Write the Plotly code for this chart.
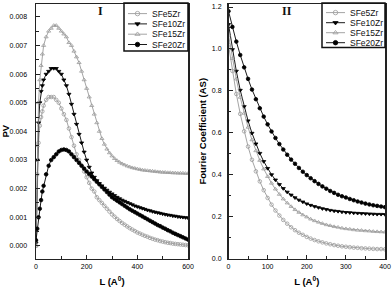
import plotly.graph_objects as go

# ---------------- data ----------------
series_names = ["SFe5Zr", "SFe10Zr", "SFe15Zr", "SFe20Zr"]

# Panel I : PV versus L
L_pv = [0, 5, 10, 15, 20, 25] + list(range(30, 601, 10))

pv_SFe5Zr = [0.0000, 0.0025, 0.0036, 0.0042, 0.0045, 0.0047,
             0.0049, 0.0051, 0.0052, 0.0052, 0.0052, 0.0051, 0.0050, 0.0048, 0.0046, 0.0044,
             0.0041, 0.0038, 0.0035, 0.0032, 0.0030, 0.0028, 0.0026, 0.0024, 0.0022, 0.0020,
             0.0019, 0.0017, 0.0016, 0.0015, 0.0014, 0.0013, 0.0012, 0.0011, 0.00102, 0.00094,
             0.00087, 0.0008, 0.00074, 0.00068, 0.00062, 0.00057, 0.00052, 0.00047, 0.00043, 0.00039,
             0.00035, 0.00032, 0.00028, 0.00025, 0.00022, 0.0002, 0.00017, 0.00015, 0.00013, 0.00011,
             0.0001, 0.00008, 0.00007, 0.00006, 0.00005, 0.00004, 0.00003, 0.00002]

pv_SFe10Zr = [0.0001, 0.0030, 0.0043, 0.0050, 0.0054, 0.0056,
              0.0058, 0.0060, 0.0061, 0.0062, 0.0062, 0.0062, 0.0061, 0.0060, 0.0058, 0.0056,
              0.0053, 0.00495, 0.0046, 0.00425, 0.0039, 0.0036, 0.00328, 0.0030, 0.00275, 0.00255,
              0.0024, 0.00228, 0.00218, 0.0021, 0.00202, 0.00195, 0.00188, 0.00182, 0.00176, 0.0017,
              0.00165, 0.0016, 0.00156, 0.00152, 0.00148, 0.00144, 0.0014, 0.00137, 0.00134, 0.00131,
              0.00128, 0.00125, 0.00123, 0.0012, 0.00118, 0.00116, 0.00114, 0.00112, 0.0011, 0.00108,
              0.00107, 0.00105, 0.00104, 0.00102, 0.00101, 0.0010, 0.00099, 0.00098]

pv_SFe15Zr = [0.0000, 0.0035, 0.0050, 0.0058, 0.0063, 0.0067,
              0.0070, 0.0073, 0.0075, 0.0076, 0.0077, 0.0077, 0.0076, 0.0075, 0.0074, 0.0073,
              0.0071, 0.0070, 0.0068, 0.0066, 0.0064, 0.0061, 0.0058, 0.0055, 0.0052, 0.0049,
              0.0046, 0.0043, 0.0040, 0.00375, 0.00355, 0.00338, 0.00325, 0.00314, 0.00305, 0.00298,
              0.00292, 0.00287, 0.00283, 0.00279, 0.00276, 0.00273, 0.00271, 0.00269, 0.00267, 0.00265,
              0.00264, 0.00263, 0.00262, 0.00261, 0.0026, 0.00259, 0.00258, 0.00257, 0.00257, 0.00256,
              0.00256, 0.00255, 0.00255, 0.00254, 0.00254, 0.00254, 0.00253, 0.00253]

pv_SFe20Zr = [0.0002, 0.0006, 0.0010, 0.0013, 0.0016, 0.0019,
              0.0021, 0.0025, 0.0028, 0.0030, 0.0031, 0.0032, 0.0033, 0.00335, 0.00337, 0.00335,
              0.0033, 0.0032, 0.0031, 0.0030, 0.0029, 0.0028, 0.0027, 0.0026, 0.00251, 0.00242,
              0.00233, 0.00224, 0.00215, 0.00206, 0.00197, 0.00188, 0.00179, 0.0017, 0.00164, 0.00158,
              0.00152, 0.00146, 0.0014, 0.00134, 0.00128, 0.00123, 0.00118, 0.00113, 0.00108, 0.00103,
              0.00098, 0.00093, 0.00088, 0.00083, 0.00078, 0.00073, 0.00069, 0.00064, 0.0006, 0.00055,
              0.00051, 0.00046, 0.00042, 0.00038, 0.00034, 0.0003, 0.00026, 0.00022]

# Panel II : Fourier coefficient (AS) versus L
L_as = list(range(0, 401, 10))

as_SFe5Zr = [1.020, 0.895, 0.785, 0.690, 0.607, 0.534, 0.471, 0.416, 0.368, 0.326,
             0.289, 0.257, 0.229, 0.205, 0.184, 0.166, 0.149, 0.135, 0.123, 0.113,
             0.103, 0.095, 0.088, 0.082, 0.077, 0.072, 0.068, 0.064, 0.061, 0.058,
             0.056, 0.054, 0.052, 0.051, 0.049, 0.048, 0.047, 0.046, 0.045, 0.045, 0.044]

as_SFe10Zr = [1.117, 0.997, 0.894, 0.803, 0.725, 0.657, 0.598, 0.547, 0.502, 0.463,
              0.430, 0.400, 0.375, 0.353, 0.334, 0.317, 0.303, 0.290, 0.279, 0.270,
              0.261, 0.254, 0.248, 0.243, 0.238, 0.234, 0.230, 0.227, 0.225, 0.222,
              0.220, 0.219, 0.217, 0.216, 0.215, 0.214, 0.213, 0.212, 0.211, 0.211, 0.210]

as_SFe15Zr = [1.065, 0.954, 0.856, 0.769, 0.693, 0.626, 0.566, 0.514, 0.468, 0.427,
              0.391, 0.359, 0.331, 0.306, 0.284, 0.265, 0.248, 0.233, 0.220, 0.208,
              0.198, 0.188, 0.180, 0.173, 0.167, 0.161, 0.157, 0.152, 0.149, 0.145,
              0.142, 0.140, 0.137, 0.135, 0.134, 0.132, 0.131, 0.129, 0.128, 0.127, 0.126]

as_SFe20Zr = [1.180, 1.105, 1.035, 0.971, 0.912, 0.857, 0.806, 0.760, 0.717, 0.677,
              0.640, 0.606, 0.575, 0.546, 0.520, 0.495, 0.472, 0.452, 0.432, 0.414,
              0.398, 0.383, 0.369, 0.356, 0.344, 0.333, 0.322, 0.313, 0.304, 0.297,
              0.291, 0.284, 0.278, 0.272, 0.267, 0.262, 0.258, 0.254, 0.251, 0.248, 0.245]

pv_data = [pv_SFe5Zr, pv_SFe10Zr, pv_SFe15Zr, pv_SFe20Zr]
as_data = [as_SFe5Zr, as_SFe10Zr, as_SFe15Zr, as_SFe20Zr]

# ---------------- styles / layout constants ----------------
W, H = 392, 289
GRAY = "#9a9a9a"
BLACK = "#000000"
FRAME = "#222222"
BOXC = "#111111"
FONT = "Arial, Liberation Sans, sans-serif"
SERIF = "Liberation Serif, Times New Roman, serif"

styles = [
    dict(color=GRAY, symbol="circle-open"),
    dict(color=BLACK, symbol="triangle-down"),
    dict(color=GRAY, symbol="triangle-up-open"),
    dict(color=BLACK, symbol="circle"),
]

# legend boxes (pixel layout): box, sample segment, text x, row centres
legend_boxes = [
    dict(box=(124, 3, 188, 51), seg=(128, 147), text_x=150, rows=(13.6, 23.9, 34.2, 44.5)),
    dict(box=(322, 3, 385, 47.5), seg=(326, 345), text_x=348, rows=(12.6, 22.7, 32.7, 42.7)),
]


def mk_marker(st, size=3.6):
    return dict(symbol=st["symbol"], size=size, color=st["color"],
                line=dict(color=st["color"], width=0.8))


fig = go.Figure()
for name, ys, st in zip(series_names, pv_data, styles):
    fig.add_trace(go.Scatter(x=L_pv, y=ys, name=name, mode="lines+markers",
                             xaxis="x", yaxis="y", showlegend=False,
                             line=dict(color=st["color"], width=0.9), marker=mk_marker(st)))
for name, ys, st in zip(series_names, as_data, styles):
    fig.add_trace(go.Scatter(x=L_as, y=ys, name=name, mode="lines+markers",
                             xaxis="x2", yaxis="y2", showlegend=False,
                             line=dict(color=st["color"], width=0.9), marker=mk_marker(st)))

annotations = []
shapes = []
for lg in legend_boxes:
    x0, y0, x1, y1 = lg["box"]
    # legend frame in paper coordinates, drawn above everything
    shapes.append(dict(type="rect", xref="paper", yref="paper",
                       x0=x0 / W, x1=x1 / W, y0=1 - y1 / H, y1=1 - y0 / H,
                       line=dict(color=BOXC, width=1.5), fillcolor="rgba(0,0,0,0)",
                       layer="above"))
    s0, s1 = lg["seg"]
    for name, st, ry in zip(series_names, styles, lg["rows"]):
        fig.add_trace(go.Scatter(x=[s0, s1], y=[ry, ry], mode="lines", xaxis="x3", yaxis="y3",
                                 showlegend=False, hoverinfo="skip",
                                 line=dict(color=st["color"], width=0.9)))
        fig.add_trace(go.Scatter(x=[(s0 + s1) / 2], y=[ry], mode="markers", xaxis="x3", yaxis="y3",
                                 showlegend=False, hoverinfo="skip", marker=mk_marker(st, 4.5)))
        annotations.append(dict(text=name, xref="x3", yref="y3", x=lg["text_x"], y=ry,
                                xanchor="left", yanchor="middle", showarrow=False,
                                font=dict(family=FONT, size=8.5, color="#111")))

annotations += [
    dict(text="<b>I</b>", x=100, y=11, xref="x3", yref="y3", xanchor="center", yanchor="middle",
         showarrow=False, font=dict(family=SERIF, size=12, color="#111")),
    dict(text="<b>II</b>", x=287, y=11, xref="x3", yref="y3", xanchor="center", yanchor="middle",
         showarrow=False, font=dict(family=SERIF, size=12, color="#111")),
]

ydom = [(H - 258.5) / H, (H - 4) / H]

axis_common = dict(
    showline=True, linewidth=1.5, linecolor=FRAME, mirror=True,
    showgrid=False, zeroline=False,
    ticks="inside", ticklen=4, tickwidth=1, tickcolor=FRAME,
    tickfont=dict(family=FONT, size=7, color="#000"),
    automargin=False,
)
title_font = dict(family=FONT, size=9.5, color="#000")

fig.update_layout(
    template="none",
    width=W, height=H,
    margin=dict(l=0, r=0, t=0, b=0),
    paper_bgcolor="white", plot_bgcolor="rgba(0,0,0,0)",
    font=dict(family=FONT, color="#111"),
    showlegend=False,
    xaxis=dict(axis_common, domain=[36 / W, 188 / W], anchor="y",
               range=[0, 600], tick0=0, dtick=200, ticklabelstandoff=1,
               minor=dict(ticks="inside", ticklen=2.5, tick0=0, dtick=100, tickcolor=FRAME),
               title=dict(text="<b>L (A<sup>0</sup>)</b>", font=title_font, standoff=9)),
    yaxis=dict(axis_common, domain=ydom, anchor="x",
               range=[-0.00044, 0.00845], tick0=0, dtick=0.001, tickformat=".3f",
               ticklabelstandoff=6,
               minor=dict(ticks="inside", ticklen=2.5, tick0=0, dtick=0.0005, tickcolor=FRAME),
               title=dict(text="<b>PV</b>", font=title_font, standoff=4)),
    xaxis2=dict(axis_common, domain=[228.5 / W, 385 / W], anchor="y2",
                range=[0, 400], tick0=0, dtick=100, ticklabelstandoff=1,
                minor=dict(ticks="inside", ticklen=2.5, tick0=0, dtick=50, tickcolor=FRAME),
                title=dict(text="<b>L (A<sup>0</sup>)</b>", font=title_font, standoff=9)),
    yaxis2=dict(axis_common, domain=ydom, anchor="x2",
                range=[0, 1.2143], tick0=0, dtick=0.2, tickformat=".1f",
                ticklabelstandoff=4,
                minor=dict(ticks="inside", ticklen=2.5, tick0=0, dtick=0.1, tickcolor=FRAME),
                title=dict(text="<b>Fourier Coefficient (AS)</b>", font=title_font, standoff=3)),
    xaxis3=dict(domain=[0, 1], range=[0, W], visible=False, anchor="y3"),
    yaxis3=dict(domain=[0, 1], range=[H, 0], visible=False, anchor="x3"),
    shapes=shapes,
    annotations=annotations,
)

fig.write_html("out.html", config={"displayModeBar": False, "staticPlot": True},
               post_script="document.body.style.margin='0px';document.body.style.overflow='hidden';")
